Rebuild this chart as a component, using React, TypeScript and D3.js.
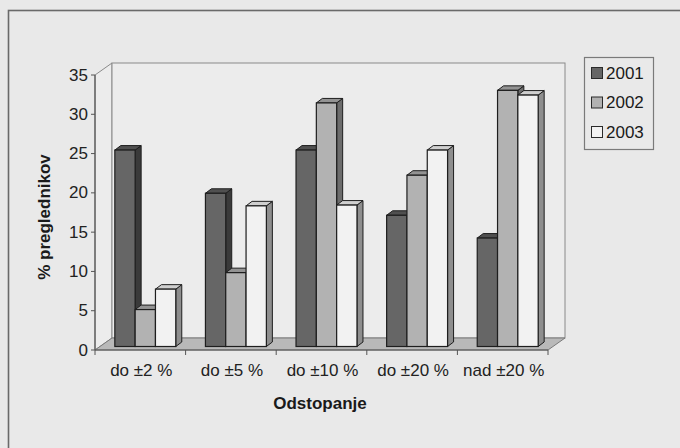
import React from "react";
import * as d3 from "d3";

const categories = ["do ±2 %", "do ±5 %", "do ±10 %", "do ±20 %", "nad ±20 %"];
const seriesNames = ["2001", "2002", "2003"];
const values2001 = [25, 19.5, 25, 16.7, 13.8];
const values2002 = [4.7, 9.4, 31, 21.8, 32.6];
const values2003 = [7.3, 17.9, 18, 25, 32];
const yTicks = [0, 5, 10, 15, 20, 25, 30, 35];

const seriesValues = [values2001, values2002, values2003];
const frontColors = ["#666666", "#b2b2b2", "#f2f2f2"];
const topColors = ["#505050", "#939393", "#cfcfcf"];
const sideColors = ["#3a3a3a", "#6c6c6c", "#8e8e8e"];

const W = 680;
const H = 448;
const BG = "#e9e9e9";
const FONT = "'Liberation Sans', Arial, Helvetica, sans-serif";

export default function App() {
  const x0 = d3.scaleBand<string>().domain(categories).range([95, 548]).padding(0);
  const x1 = d3
    .scaleBand<string>()
    .domain(seriesNames)
    .range([0, x0.bandwidth()])
    .paddingInner(0)
    .paddingOuter(0.73);
  const y = d3.scaleLinear().domain([0, 35]).range([350, 75]);

  // 3D depth offsets
  const floorDx = 17;
  const floorDy = -12;
  const barShiftX = 5;
  const barShiftY = -3.5;
  const barDx = 6;
  const barDy = -4.5;

  const left = x0.range()[0];
  const right = x0.range()[1];
  const y0 = y(0);
  const yTop = y(35);

  const bars: React.ReactNode[] = [];
  categories.forEach((c, ci) => {
    seriesNames.forEach((s, si) => {
      const v = seriesValues[si][ci];
      const bx = (x0(c) as number) + (x1(s) as number) + barShiftX;
      const bw = x1.bandwidth();
      const by = y(v) + barShiftY;
      const bb = y0 + barShiftY;
      const side = [
        [bx + bw, by],
        [bx + bw + barDx, by + barDy],
        [bx + bw + barDx, bb + barDy],
        [bx + bw, bb],
      ];
      const top = [
        [bx, by],
        [bx + barDx, by + barDy],
        [bx + bw + barDx, by + barDy],
        [bx + bw, by],
      ];
      bars.push(
        <g key={`${ci}-${si}`}>
          <polygon
            points={side.map((p) => p.join(",")).join(" ")}
            fill={sideColors[si]}
            stroke="#1e1e1e"
            strokeWidth={1}
            strokeLinejoin="round"
          />
          <polygon
            points={top.map((p) => p.join(",")).join(" ")}
            fill={topColors[si]}
            stroke="#1e1e1e"
            strokeWidth={1}
            strokeLinejoin="round"
          />
          <rect
            x={bx}
            y={by}
            width={bw}
            height={bb - by}
            fill={frontColors[si]}
            stroke="#1e1e1e"
            strokeWidth={1.2}
          />
        </g>
      );
    });
  });

  const boundaries = [left, ...categories.map((c) => (x0(c) as number) + x0.bandwidth())];

  return (
    <svg
      width={W}
      height={H}
      viewBox={`0 0 ${W} ${H}`}
      style={{ position: "fixed", left: 0, top: 0, background: BG, fontFamily: FONT }}
    >
      <rect x={0} y={0} width={W} height={H} fill={BG} />
      {/* outer chart frame */}
      <rect x={8.5} y={10.5} width={720} height={500} fill="none" stroke="#6a6a6a" strokeWidth={1.6} />

      {/* walls */}
      <polygon
        points={`${left},${y0} ${left},${yTop} ${left + floorDx},${yTop + floorDy} ${left + floorDx},${y0 + floorDy}`}
        fill="#ececec"
        stroke="#8a8a8a"
        strokeWidth={1}
      />
      <rect
        x={left + floorDx}
        y={yTop + floorDy}
        width={right - left}
        height={y0 - yTop}
        fill="#ececec"
        stroke="#8a8a8a"
        strokeWidth={1}
      />
      {/* floor */}
      <polygon
        points={`${left},${y0} ${right},${y0} ${right + floorDx},${y0 + floorDy} ${left + floorDx},${y0 + floorDy}`}
        fill="#b9b9b9"
        stroke="#7a7a7a"
        strokeWidth={1}
      />

      {/* y axis */}
      <line x1={left} y1={y0} x2={left} y2={yTop} stroke="#555" strokeWidth={1.2} />
      {yTicks.map((t) => (
        <g key={t}>
          <line x1={left - 4} y1={y(t)} x2={left} y2={y(t)} stroke="#555" strokeWidth={1} />
          <text
            x={88}
            y={y(t)}
            textAnchor="end"
            dominantBaseline="central"
            fontSize={17}
            fill="#222"
          >
            {t}
          </text>
        </g>
      ))}

      {/* x axis */}
      <line x1={left} y1={y0} x2={right} y2={y0} stroke="#555" strokeWidth={1.2} />
      {boundaries.map((b, i) => (
        <line key={i} x1={b} y1={y0} x2={b} y2={y0 + 5} stroke="#555" strokeWidth={1} />
      ))}

      {bars}

      {categories.map((c) => (
        <text
          key={c}
          x={(x0(c) as number) + x0.bandwidth() / 2 + 1}
          y={376}
          textAnchor="middle"
          fontSize={17}
          fill="#222"
        >
          {c}
        </text>
      ))}

      <text x={320} y={409} textAnchor="middle" fontSize={17} fontWeight="bold" fill="#1a1a1a">
        Odstopanje
      </text>
      <text
        transform={`translate(44,217) rotate(-90)`}
        textAnchor="middle"
        dominantBaseline="central"
        fontSize={17}
        fontWeight="bold"
        fill="#1a1a1a"
      >
        % preglednikov
      </text>

      {/* legend */}
      <rect x={584.5} y={57.5} width={69} height={92} fill={BG} stroke="#7a7a7a" strokeWidth={1.2} />
      {seriesNames.map((s, i) => {
        const cy = 73 + i * 29.5;
        return (
          <g key={s}>
            <rect
              x={591.5}
              y={cy - 5.5}
              width={11}
              height={11}
              fill={frontColors[i]}
              stroke="#2a2a2a"
              strokeWidth={1}
            />
            <text x={606} y={cy} dominantBaseline="central" fontSize={17} fill="#1a1a1a">
              {s}
            </text>
          </g>
        );
      })}
    </svg>
  );
}
